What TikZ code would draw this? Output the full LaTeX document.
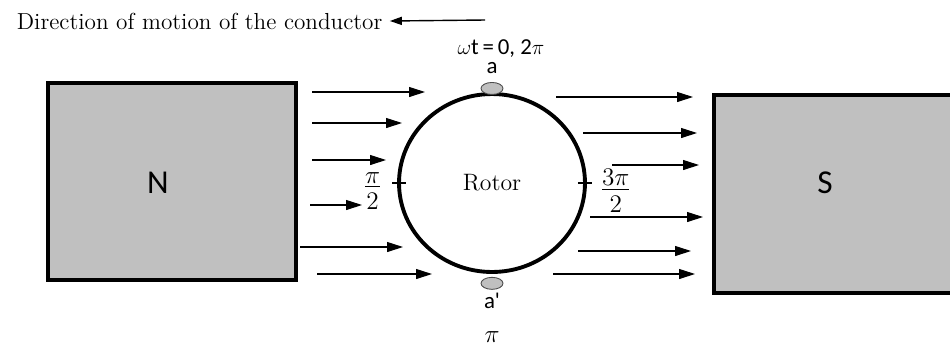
\documentclass[tikz,border=0pt]{standalone}
\usepackage{fontspec}
\usepackage{amsmath}
\newfontfamily\calibri{Carlito}
\usetikzlibrary{arrows.meta, positioning, shapes.geometric}
\definecolor{polegray}{RGB}{192,192,192}
\tikzset{
  %% ---- poles and rotor ----
  pole/.style      = {draw=black, line width=2.2pt, fill=polegray},
  polelabel/.style = {font=\calibri\fontsize{19}{22}\selectfont},
  rotor/.style     = {ellipse, draw=black, line width=2.2pt,
                      minimum width=3.72cm, minimum height=3.56cm,
                      inner sep=0pt, font=\fontsize{13.5}{16}\selectfont},
  conductor/.style = {ellipse, draw=black!70, line width=0.5pt,
                      fill=polegray, minimum width=4.4mm,
                      minimum height=2.4mm, inner sep=0pt},
  rtick/.style     = {line width=0.7pt},
  %% ---- labels ----
  sanslabel/.style = {font=\calibri\fontsize{13}{15}\selectfont, inner sep=0.5pt},
  anglabel/.style  = {font=\fontsize{14.5}{15}\selectfont, align=center,
                      inner sep=1pt},
  titletext/.style = {font=\fontsize{13.2}{15}\selectfont, inner sep=2pt},
  %% ---- arrows ----
  flux/.style      = {-{Triangle[length=3.2mm, width=2mm]}, line width=0.6pt},
  motarrow/.style  = {-{Triangle[length=2.4mm, width=1.6mm]}, line width=0.8pt},
}

\begin{document}
\begin{tikzpicture}[x=0.02cm, y=-0.02cm]
  \useasboundingbox (0,0) rectangle (950,346);

  %% Direction of motion
  \node[titletext, anchor=west] (title) at (13,21)
    {Direction of motion of the conductor};
  \coordinate (mottail) at (485,20);
  \draw[motarrow] (mottail) -- ([xshift=2pt]title.east);

  %% North pole
  \draw[pole] (48,83) rectangle (296,280);
  \node[polelabel] (N) at (158,183) {N};

  %% South pole (runs off the right edge)
  \begin{scope}
    \clip (0,0) rectangle (950,346);
    \draw[pole] (714,95) rectangle (990,293);
  \end{scope}
  \node[polelabel] (S) at (825,183) {S};

  %% Rotor
  \node[rotor] (rotor) at (492,183) {Rotor};
  \draw[rtick] ([xshift=-0.1cm]rotor.west) -- ([xshift=0.18cm]rotor.west);
  \draw[rtick] ([xshift=-0.18cm]rotor.east) -- ([xshift=0.1cm]rotor.east);

  %% Conductors a and a'
  \node[conductor, anchor=south] (ca) at ([yshift=-1.6pt]rotor.north) {};
  \node[conductor, anchor=north] (cb) at ([yshift=-1.7pt]rotor.south) {};
  \node[sanslabel, anchor=base] (a) at ([yshift=1.8mm]ca.north) {a};
  \node[sanslabel, anchor=base] (wt) at ([xshift=1.8mm, yshift=3.8mm]a.base)
    {$\omega$t\,=\,0, 2$\pi$};
  \node[sanslabel, below=1pt of cb] (ap) {a\textquotesingle};
  \node[anglabel, below=0.4cm of ap] (pi) {$\pi$};

  %% Angle labels
  \node[anglabel, left=0.3cm of rotor.west, yshift=-0.16cm] (lhalf)
    {\underline{$\pi$}\\$2$};
  \node[anglabel, right=0.26cm of rotor.east, yshift=-0.16cm] (rhalf)
    {\underline{$3\pi$}\\$2$};

  %% Flux lines, N side
  \foreach \xa/\xb/\yy in {312/425/92, 312/402/123, 312/386/160,
                           310/362/205, 300/403/247, 317/432/274}
    \draw[flux] (\xa,\yy) -- (\xb,\yy);

  %% Flux lines, S side
  \foreach \xa/\xb/\yy in {556/693/97, 583/697/133, 612/699/165,
                           590/703/217, 578/691/251, 553/695/274}
    \draw[flux] (\xa,\yy) -- (\xb,\yy);

\end{tikzpicture}
\end{document}
